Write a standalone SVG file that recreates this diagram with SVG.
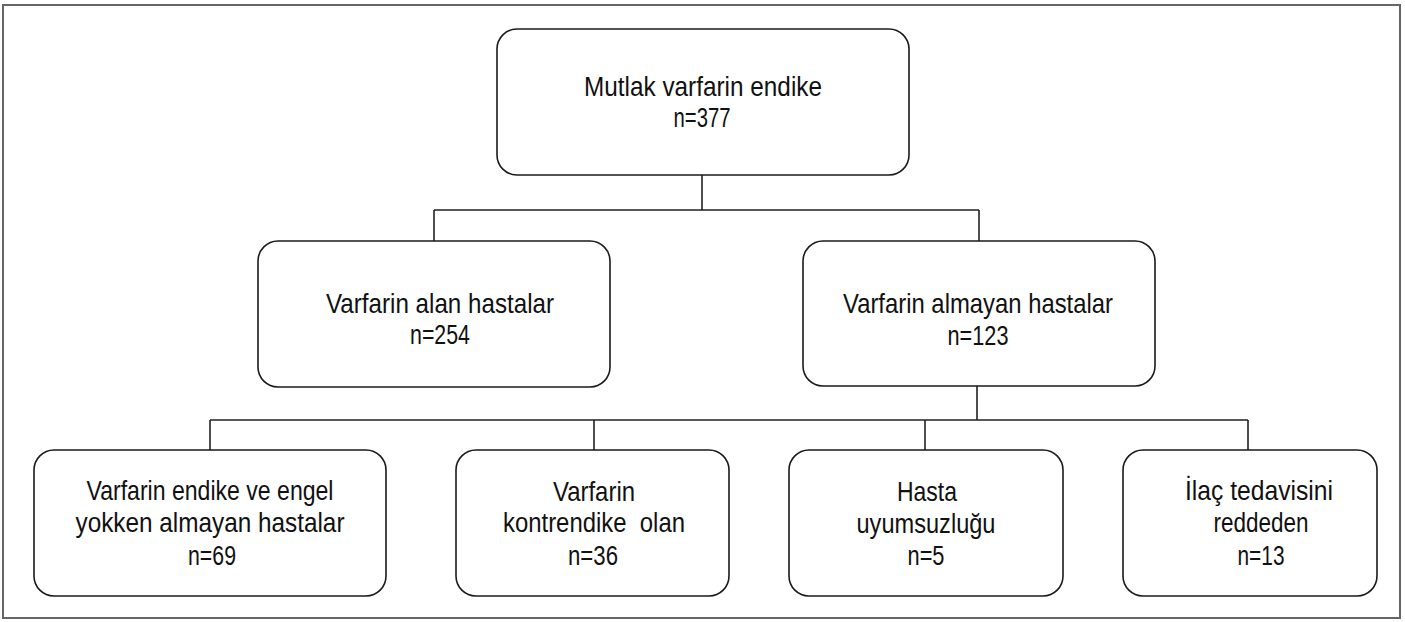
<svg xmlns="http://www.w3.org/2000/svg" width="1405" height="622" viewBox="0 0 1405 622">
<style>
.frame{fill:none;stroke:#666;stroke-width:2}
.box{fill:#fff;stroke:#1a1a1a;stroke-width:1.6}
.conn{fill:none;stroke:#222;stroke-width:1.6}
text{font-family:"Liberation Sans","Arial",sans-serif;font-size:27.5px;fill:#111;text-anchor:middle}
</style>
<rect class="frame" x="3" y="5" width="1397" height="613"/>
<g id="connectors">
<path class="conn" d="M702,175 V210 M434,210 H979 M434,210 V241 M979,210 V241"/>
<path class="conn" d="M977,386 V420 M210,420 H1248 M210,420 V450 M594,420 V450 M925,420 V450 M1248,420 V450"/>
</g>
<g id="n1">
<rect class="box" x="497" y="29" width="412" height="146" rx="20"/>
<text x="703" y="96" textLength="238" lengthAdjust="spacingAndGlyphs">Mutlak varfarin endike</text>
<text x="702" y="127" textLength="57" lengthAdjust="spacingAndGlyphs">n=377</text>
</g>
<g id="n2">
<rect class="box" x="258" y="241" width="352" height="146" rx="20"/>
<text x="440" y="313" textLength="228" lengthAdjust="spacingAndGlyphs">Varfarin alan hastalar</text>
<text x="440" y="344" textLength="60" lengthAdjust="spacingAndGlyphs">n=254</text>
</g>
<g id="n3">
<rect class="box" x="803" y="241" width="352" height="145" rx="20"/>
<text x="978" y="313" textLength="270" lengthAdjust="spacingAndGlyphs">Varfarin almayan hastalar</text>
<text x="978" y="345" textLength="61" lengthAdjust="spacingAndGlyphs">n=123</text>
</g>
<g id="n4">
<rect class="box" x="34" y="450" width="352" height="146" rx="20"/>
<text x="210" y="500" textLength="247" lengthAdjust="spacingAndGlyphs">Varfarin endike ve engel</text>
<text x="210" y="532" textLength="269" lengthAdjust="spacingAndGlyphs">yokken almayan hastalar</text>
<text x="212" y="565" textLength="48" lengthAdjust="spacingAndGlyphs">n=69</text>
</g>
<g id="n5">
<rect class="box" x="456" y="450" width="273" height="146" rx="20"/>
<text x="594" y="501" textLength="82" lengthAdjust="spacingAndGlyphs">Varfarin</text>
<text x="594" y="532" textLength="182" lengthAdjust="spacingAndGlyphs" xml:space="preserve">kontrendike  olan</text>
<text x="593" y="565" textLength="50" lengthAdjust="spacingAndGlyphs">n=36</text>
</g>
<g id="n6">
<rect class="box" x="789" y="450" width="274" height="146" rx="20"/>
<text x="927" y="501" textLength="60" lengthAdjust="spacingAndGlyphs">Hasta</text>
<text x="926" y="533" textLength="139" lengthAdjust="spacingAndGlyphs">uyumsuzluğu</text>
<text x="926" y="565" textLength="37" lengthAdjust="spacingAndGlyphs">n=5</text>
</g>
<g id="n7">
<rect class="box" x="1123" y="450" width="254" height="146" rx="20"/>
<text x="1259" y="500" textLength="148" lengthAdjust="spacingAndGlyphs">İlaç tedavisini</text>
<text x="1261" y="532" textLength="95" lengthAdjust="spacingAndGlyphs">reddeden</text>
<text x="1261" y="565" textLength="47" lengthAdjust="spacingAndGlyphs">n=13</text>
</g>
</svg>
